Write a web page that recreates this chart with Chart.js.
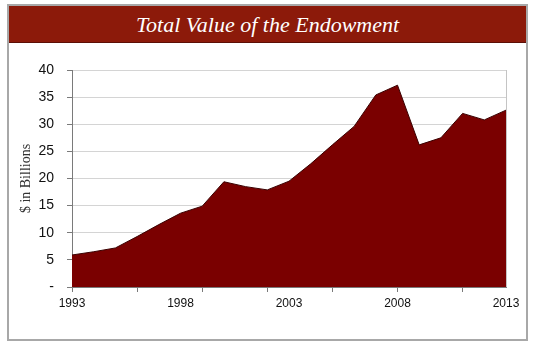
<!DOCTYPE html>
<html>
<head>
<meta charset="utf-8">
<script src="https://cdn.jsdelivr.net/npm/chart.js@4"></script>
<style>
  body { margin: 0; background: #fff; }
  .frame {
    position: absolute; left: 7px; top: 4px;
    width: 517px; height: 333px;
    border: 2px solid #a8a8a8;
    background: #fff;
  }
  .title-bar {
    height: 36px; background: #8C1A0A;
    border-bottom: 1px solid #5c0f06;
    color: #fff; text-align: center;
    font: italic 22px "Liberation Serif", "Times New Roman", serif;
    line-height: 37px;
  }
  #endowChart { position: absolute; left: 0; top: 0; }
</style>
</head>
<body>
<div class="frame"><div class="title-bar">Total Value of the Endowment</div></div>
<canvas id="endowChart" width="536" height="346"></canvas>
<script>
const years = ["1993", "1994", "1995", "1996", "1997", "1998", "1999", "2000", "2001", "2002", "2003",
  "2004", "2005", "2006", "2007", "2008", "2009", "2010", "2011", "2012", "2013"];
// $ billions
const endowment = [5.9, 6.5, 7.2, 9.3, 11.5, 13.6, 14.9, 19.4, 18.5, 17.9, 19.5,
  22.7, 26.2, 29.6, 35.4, 37.2, 26.2, 27.5, 32.0, 30.8, 32.6];
const yTicks = [0, 5, 10, 15, 20, 25, 30, 35, 40];

const ctx = document.getElementById("endowChart").getContext("2d");

new Chart(ctx, {
  type: "line",
  data: {
    labels: years,
    datasets: [
      {
        label: "Endowment",
        data: endowment,
        fill: "origin",
        backgroundColor: "#7A0000",
        borderColor: "#3a0000",
        borderWidth: 1,
        pointRadius: 0,
        tension: 0,
      },
    ],
  },
  options: {
    responsive: false,
    animation: false,
    layout: {
      padding: { left: 18, right: 30, top: 70, bottom: 38 },
    },
    plugins: {
      legend: { display: false },
      tooltip: { enabled: false },
    },
    scales: {
      x: {
        offset: false,
        afterFit: function (scale) { scale.height = 21; },
        grid: {
          drawOnChartArea: true,
          color: function (c) { return c.index === years.length - 1 ? "#c4c4c4" : "transparent"; },
          tickColor: function (c) { return c.index % 3 === 0 ? "#7a7a7a" : "transparent"; },
          tickLength: 5,
        },
        border: { color: "#7a7a7a" },
        ticks: {
          autoSkip: false,
          maxRotation: 0,
          padding: 4,
          color: "#111",
          font: { family: "Liberation Sans, Arial, sans-serif", size: 12 },
          callback: function (value, index) {
            return index % 5 === 0 ? years[index] : "";
          },
        },
      },
      y: {
        min: 0,
        max: 40,
        afterFit: function (scale) { scale.width = 54; },
        afterBuildTicks: function (scale) {
          scale.ticks = yTicks.map(function (v) { return { value: v }; });
        },
        grid: {
          color: "#d4d4d4",
          tickColor: "#7a7a7a",
          tickLength: 5,
        },
        border: { color: "#7a7a7a" },
        ticks: {
          padding: 13,
          color: "#111",
          font: { family: "Liberation Sans, Arial, sans-serif", size: 14 },
          callback: function (value) { return value === 0 ? "-" : value; },
        },
        title: {
          display: true,
          text: "$ in Billions",
          color: "#333",
          padding: 0,
          font: { family: "Liberation Serif, Times New Roman, serif", size: 14 },
        },
      },
    },
  },
});
</script>
</body>
</html>
